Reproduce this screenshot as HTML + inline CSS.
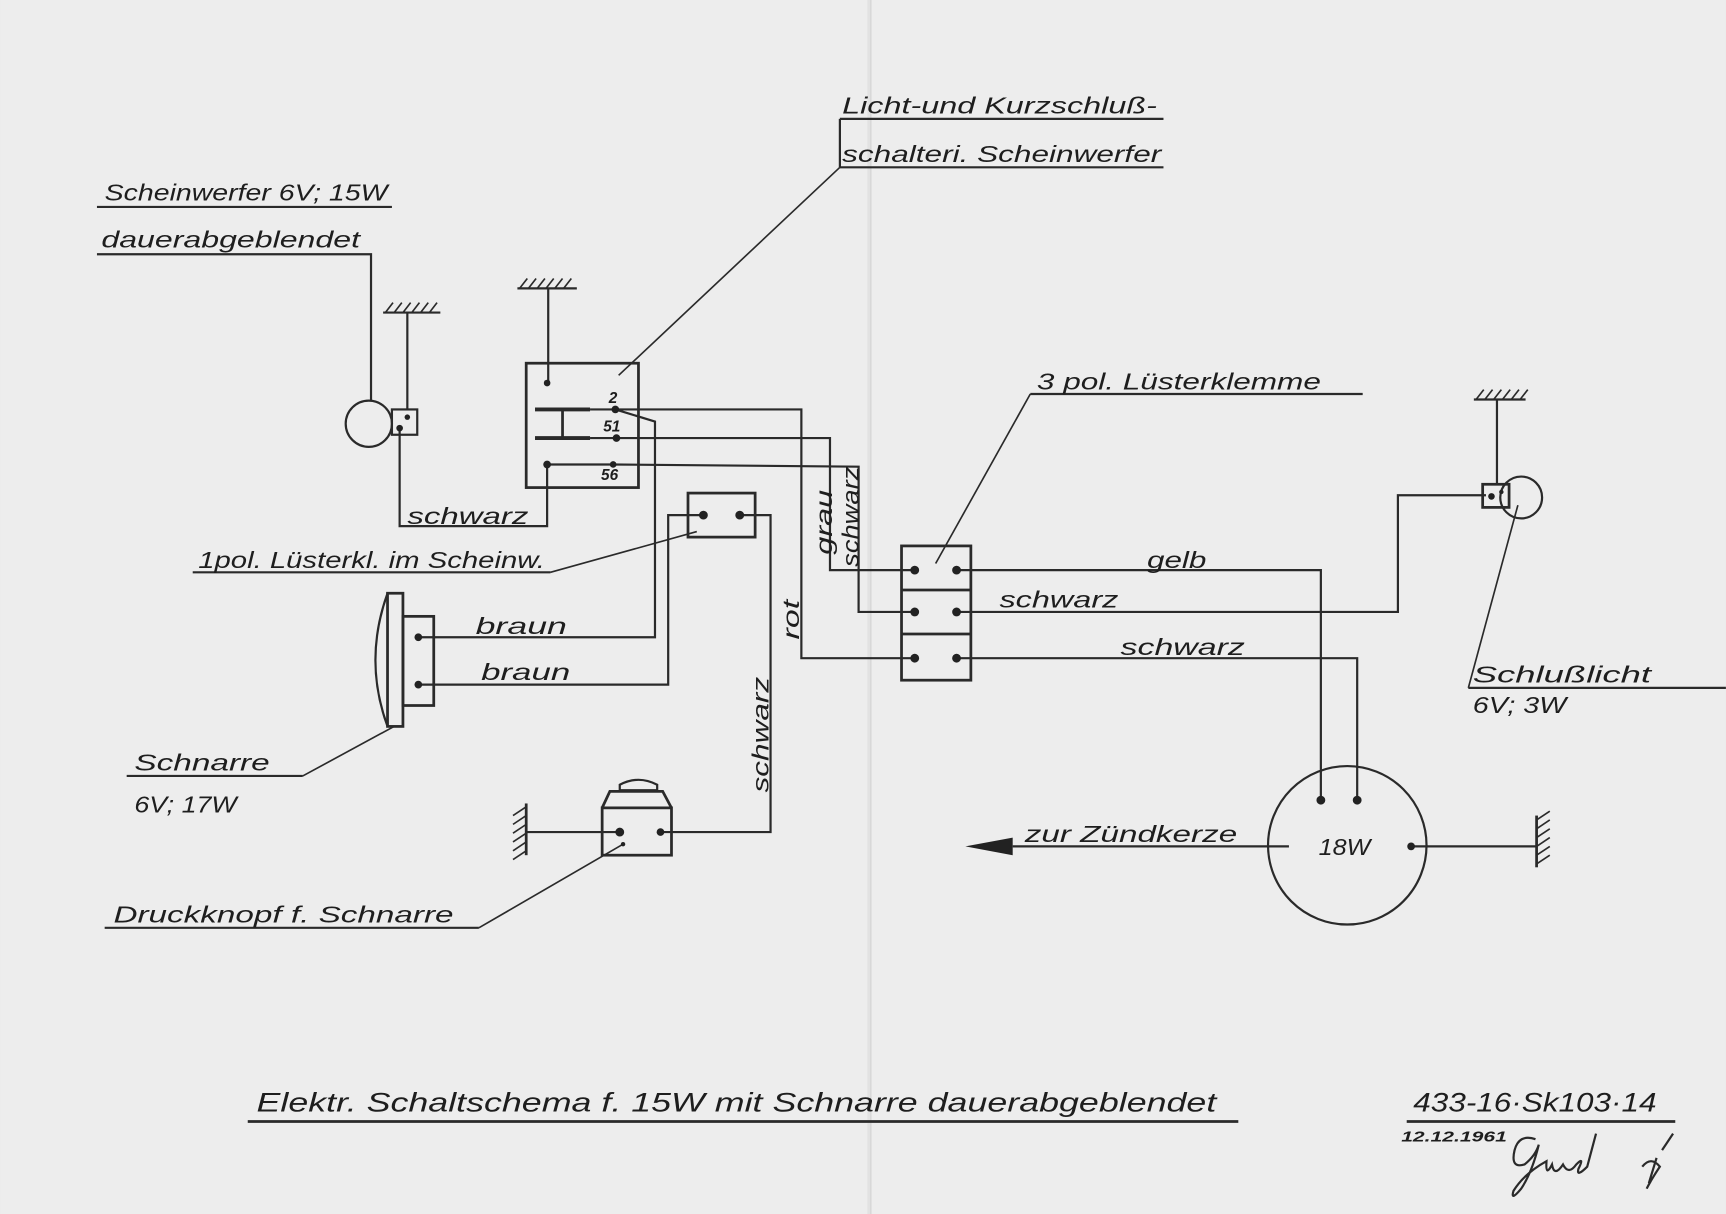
<!DOCTYPE html>
<html><head><meta charset="utf-8"><style>
html,body{margin:0;padding:0;background:#ebebeb;}
svg{display:block;}
text{font-family:"Liberation Sans",sans-serif;font-style:italic;fill:#1e1e1e;}
</style></head><body>
<svg width="1726" height="1214" viewBox="0 0 1568 1103" xmlns="http://www.w3.org/2000/svg">
<rect x="0" y="0" width="1568" height="1103" fill="#ededed"/>
<rect x="788" y="0" width="4" height="1103" fill="#e2e2e2"/>
<line x1="791" y1="0" x2="791" y2="1103" stroke="#d6d6d6" stroke-width="1"/>
<g stroke="#2a2a2a" stroke-width="2" fill="none">
<line x1="88" y1="188" x2="356" y2="188"/>
<polyline points="88,231 337,231 337,364"/>
<circle cx="335" cy="385" r="21"/>
<rect x="356" y="372" width="23" height="23"/>
<line x1="348" y1="284" x2="400" y2="284"/>
<line x1="370" y1="284" x2="370" y2="372"/>
<polyline points="363,389 363,478 497,478 497,422"/>
<rect x="478" y="330" width="102" height="113" stroke-width="2.5"/>
<line x1="470" y1="262" x2="524" y2="262"/>
<line x1="498" y1="262" x2="498" y2="348"/>
<line x1="486" y1="372" x2="536" y2="372" stroke-width="3.5"/>
<line x1="486" y1="398" x2="536" y2="398" stroke-width="3.5"/>
<line x1="511" y1="372" x2="511" y2="398" stroke-width="2.5"/>
<line x1="536" y1="372" x2="559" y2="372"/>
<line x1="536" y1="398" x2="560" y2="398"/>
<line x1="497" y1="422" x2="557" y2="422"/>
<polyline points="559,372 728,372 728,598 831,598"/>
<polyline points="560,398 754,398 754,518 831,518"/>
<polyline points="557,422 780,424 780,556 831,556"/>
<polyline points="559,372 595,383 595,579 380,579"/>
<line x1="763" y1="108" x2="1057" y2="108"/>
<line x1="763" y1="152" x2="1057" y2="152"/>
<line x1="763" y1="108" x2="763" y2="152"/>
<line x1="763" y1="152" x2="562" y2="341" stroke-width="1.5"/>
<rect x="625" y="448" width="61" height="40" stroke-width="2.5"/>
<polyline points="639,468 607,468 607,622 380,622"/>
<polyline points="672,468 700,468 700,756 600,756"/>
<line x1="175" y1="520" x2="500" y2="520"/>
<line x1="500" y1="520" x2="633" y2="483" stroke-width="1.5"/>
<rect x="352" y="539" width="14" height="121" stroke-width="2.5"/>
<path d="M352,539 Q330,600 352,660"/>
<rect x="366" y="560" width="28" height="81" stroke-width="2.5"/>
<line x1="115" y1="705" x2="275" y2="705"/>
<line x1="275" y1="705" x2="358" y2="660" stroke-width="1.5"/>
<rect x="547" y="734" width="63" height="43" stroke-width="2.5"/>
<polyline points="547,734 554,719 602,719 610,734" stroke-width="2.5"/>
<path d="M563,718 L563,713 Q580,704 597,713 L597,718 Z" stroke-width="2"/>
<line x1="478" y1="756" x2="563" y2="756"/>
<line x1="478" y1="730" x2="478" y2="777" stroke-width="2.5"/>
<g stroke-width="1.5"><line x1="478" y1="733" x2="466" y2="741"/><line x1="478" y1="741" x2="466" y2="749"/><line x1="478" y1="749" x2="466" y2="757"/><line x1="478" y1="757" x2="466" y2="765"/><line x1="478" y1="765" x2="466" y2="773"/><line x1="478" y1="773" x2="466" y2="781"/></g>
<line x1="95" y1="843" x2="435" y2="843"/>
<line x1="435" y1="843" x2="566" y2="767" stroke-width="1.5"/>
<rect x="819" y="496" width="63" height="122" stroke-width="2.5"/>
<line x1="819" y1="536" x2="882" y2="536" stroke-width="2.5"/>
<line x1="819" y1="576" x2="882" y2="576" stroke-width="2.5"/>
<polyline points="869,518 1200,518 1200,725"/>
<polyline points="869,556 1270,556 1270,450 1350,450"/>
<polyline points="869,598 1233,598 1233,725"/>
<line x1="936" y1="358" x2="1238" y2="358"/>
<line x1="936" y1="358" x2="850" y2="512" stroke-width="1.5"/>
<rect x="1347" y="440" width="24" height="21" stroke-width="2.5"/>
<circle cx="1382" cy="452" r="19"/>
<line x1="1339" y1="363" x2="1386" y2="363"/>
<line x1="1360" y1="363" x2="1360" y2="440"/>
<line x1="1334" y1="625" x2="1379" y2="459" stroke-width="1.5"/>
<line x1="1334" y1="625" x2="1568" y2="625"/>
<circle cx="1224" cy="768" r="72"/>
<line x1="1282" y1="769" x2="1396" y2="769"/>
<line x1="1396" y1="741" x2="1396" y2="788" stroke-width="2.5"/>
<g stroke-width="1.5"><line x1="1396" y1="745" x2="1408" y2="737"/><line x1="1396" y1="753" x2="1408" y2="745"/><line x1="1396" y1="761" x2="1408" y2="753"/><line x1="1396" y1="769" x2="1408" y2="761"/><line x1="1396" y1="777" x2="1408" y2="769"/><line x1="1396" y1="785" x2="1408" y2="777"/></g>
<line x1="920" y1="769" x2="1171" y2="769"/>
<line x1="225" y1="1019" x2="1125" y2="1019" stroke-width="2.5"/>
<line x1="1278" y1="1019" x2="1522" y2="1019" stroke-width="2.5"/>
<path d="M1395,1035 Q1380,1030 1376,1045 Q1372,1062 1385,1058 Q1395,1050 1398,1040 Q1392,1065 1382,1080 Q1372,1092 1375,1082 Q1385,1066 1405,1055 Q1404,1070 1410,1058 Q1412,1070 1420,1058 Q1425,1068 1432,1058 Q1440,1050 1434,1062 Q1432,1070 1442,1060 L1450,1030" stroke-width="2"/>
<path d="M1492,1060 Q1500,1050 1508,1060 Q1500,1072 1496,1080 M1505,1052 L1498,1075 M1510,1045 L1520,1030" stroke-width="2"/>
</g>
<g stroke="#2a2a2a" stroke-width="1.5">
<line x1="350" y1="284" x2="357" y2="275"/><line x1="358" y1="284" x2="365" y2="275"/><line x1="366" y1="284" x2="373" y2="275"/><line x1="374" y1="284" x2="381" y2="275"/><line x1="382" y1="284" x2="389" y2="275"/><line x1="390" y1="284" x2="397" y2="275"/>
<line x1="472" y1="262" x2="479" y2="253"/><line x1="480" y1="262" x2="487" y2="253"/><line x1="488" y1="262" x2="495" y2="253"/><line x1="496" y1="262" x2="503" y2="253"/><line x1="504" y1="262" x2="511" y2="253"/><line x1="512" y1="262" x2="519" y2="253"/>
<line x1="1341" y1="363" x2="1348" y2="354"/><line x1="1349" y1="363" x2="1356" y2="354"/><line x1="1357" y1="363" x2="1364" y2="354"/><line x1="1365" y1="363" x2="1372" y2="354"/><line x1="1373" y1="363" x2="1380" y2="354"/><line x1="1381" y1="363" x2="1388" y2="354"/>
</g>
<g fill="#222">
<circle cx="370" cy="379" r="2.5"/><circle cx="363" cy="389" r="3"/>
<circle cx="497" cy="348" r="3"/><circle cx="559" cy="372" r="3.5"/><circle cx="560" cy="398" r="3.5"/><circle cx="557" cy="422" r="3"/><circle cx="497" cy="422" r="3.5"/>
<circle cx="639" cy="468" r="4"/><circle cx="672" cy="468" r="4"/>
<circle cx="380" cy="579" r="3.5"/><circle cx="380" cy="622" r="3.5"/>
<circle cx="563" cy="756" r="4"/><circle cx="600" cy="756" r="3.5"/><circle cx="566" cy="767" r="2"/>
<circle cx="831" cy="518" r="4"/><circle cx="869" cy="518" r="4"/><circle cx="831" cy="556" r="4"/><circle cx="869" cy="556" r="4"/><circle cx="831" cy="598" r="4"/><circle cx="869" cy="598" r="4"/>
<circle cx="1355" cy="451" r="3"/><circle cx="1364" cy="447" r="2"/>
<circle cx="1200" cy="727" r="4"/><circle cx="1233" cy="727" r="4"/><circle cx="1282" cy="769" r="3.5"/>
<polygon points="877,769 920,761 920,777"/>
</g>
<g font-size="21">
<text x="765" y="103" textLength="286" lengthAdjust="spacingAndGlyphs">Licht-und Kurzschluß-</text>
<text x="765" y="147" textLength="290" lengthAdjust="spacingAndGlyphs">schalteri. Scheinwerfer</text>
<text x="95" y="182" textLength="257" lengthAdjust="spacingAndGlyphs">Scheinwerfer 6V; 15W</text>
<text x="92" y="225" textLength="235" lengthAdjust="spacingAndGlyphs">dauerabgeblendet</text>
<text x="370" y="476" textLength="110" lengthAdjust="spacingAndGlyphs">schwarz</text>
<text x="180" y="516" textLength="315" lengthAdjust="spacingAndGlyphs">1pol. Lüsterkl. im Scheinw.</text>
<text x="432" y="576" textLength="83" lengthAdjust="spacingAndGlyphs">braun</text>
<text x="437" y="618" textLength="81" lengthAdjust="spacingAndGlyphs">braun</text>
<text x="122" y="700" textLength="123" lengthAdjust="spacingAndGlyphs">Schnarre</text>
<text x="122" y="738" textLength="93" lengthAdjust="spacingAndGlyphs">6V; 17W</text>
<text x="103" y="838" textLength="309" lengthAdjust="spacingAndGlyphs">Druckknopf f. Schnarre</text>
<text x="942" y="354" textLength="258" lengthAdjust="spacingAndGlyphs">3 pol. Lüsterklemme</text>
<text x="1042" y="516" textLength="54" lengthAdjust="spacingAndGlyphs">gelb</text>
<text x="908" y="552" textLength="108" lengthAdjust="spacingAndGlyphs">schwarz</text>
<text x="1018" y="595" textLength="113" lengthAdjust="spacingAndGlyphs">schwarz</text>
<text x="1338" y="620" textLength="162" lengthAdjust="spacingAndGlyphs">Schlußlicht</text>
<text x="1338" y="648" textLength="85" lengthAdjust="spacingAndGlyphs">6V; 3W</text>
<text x="931" y="765" textLength="193" lengthAdjust="spacingAndGlyphs">zur Zündkerze</text>
<text x="1198" y="777" textLength="47" lengthAdjust="spacingAndGlyphs">18W</text>
<text transform="translate(756,504) rotate(-90)" textLength="59" lengthAdjust="spacingAndGlyphs">grau</text>
<text transform="translate(780,515) rotate(-90)" textLength="91" lengthAdjust="spacingAndGlyphs">schwarz</text>
<text transform="translate(726,581) rotate(-90)" textLength="36" lengthAdjust="spacingAndGlyphs">rot</text>
<text transform="translate(698,720) rotate(-90)" textLength="105" lengthAdjust="spacingAndGlyphs">schwarz</text>
</g>
<g font-size="14" font-weight="bold">
<text x="553" y="366">2</text>
<text x="548" y="392">51</text>
<text x="546" y="436">56</text>
</g>
<text x="233" y="1010" font-size="24" textLength="872" lengthAdjust="spacingAndGlyphs">Elektr. Schaltschema f. 15W mit Schnarre dauerabgeblendet</text>
<text x="1284" y="1010" font-size="24" textLength="221" lengthAdjust="spacingAndGlyphs">433-16·Sk103·14</text>
<text x="1273" y="1037" font-size="13" font-weight="bold" textLength="96" lengthAdjust="spacingAndGlyphs">12.12.1961</text>
</svg>
</body></html>
